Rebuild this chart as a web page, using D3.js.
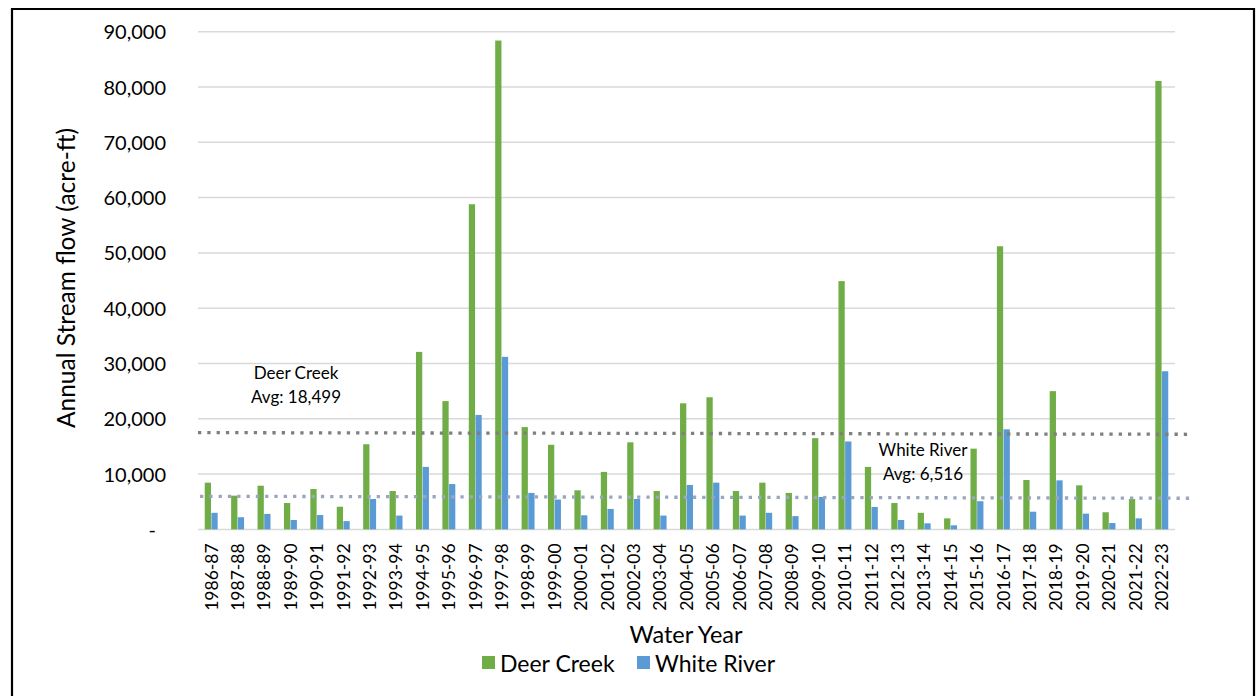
<!DOCTYPE html>
<html><head><meta charset="utf-8">
<script src="https://cdn.jsdelivr.net/npm/d3@7"></script>
<style>body{margin:0;background:#fff;} text{font-family:Lato, "Open Sans", sans-serif;}</style>
</head><body>
<svg id="chart" width="1256" height="696"></svg>
<script>
const years = ["1986-87","1987-88","1988-89","1989-90","1990-91","1991-92","1992-93","1993-94","1994-95","1995-96","1996-97","1997-98","1998-99","1999-00","2000-01","2001-02","2002-03","2003-04","2004-05","2005-06","2006-07","2007-08","2008-09","2009-10","2010-11","2011-12","2012-13","2013-14","2014-15","2015-16","2016-17","2017-18","2018-19","2019-20","2020-21","2021-22","2022-23"];
const deerCreek = [8450,6100,7900,4770,7300,4100,15400,6940,32100,23200,58800,88400,18500,15300,7070,10400,15750,6940,22800,23900,6940,8450,6600,16500,44900,11300,4770,3000,2000,14600,51200,8930,25000,7970,3100,5500,81100];
const whiteRiver = [3000,2200,2800,1700,2600,1500,5500,2500,11300,8200,20700,31200,6600,5400,2550,3700,5500,2500,8030,8450,2500,3000,2400,5860,15900,4050,1700,1100,740,5100,18100,3200,8870,2850,1150,2000,28600];
const seriesNames = ["Deer Creek","White River"];
const seriesColors = ["#70ad47","#5b9bd5"];
const yTicks = [0,10000,20000,30000,40000,50000,60000,70000,80000,90000];
// average reference lines as drawn (start value, end value)
const deerAvgLine = [17500,17200];
const whiteAvgLine = [5990,5630];
const deerAvgLabel = ["Deer Creek","Avg: 18,499"];
const whiteAvgLabel = ["White River","Avg: 6,516"];

const svg = d3.select("#chart");
const L = 198, R = 1175, T = 31.7, B = 529.4;

// border
svg.append("path").attr("d","M12,700 L12,9 L1254,9 L1254,700").attr("fill","none").attr("stroke","#000").attr("stroke-width",2.2);

const x = d3.scaleBand().domain(years).range([L,R]).padding(0);
const xs = d3.scaleBand().domain(seriesNames).range([x.bandwidth()*0.255, x.bandwidth()*0.745]).paddingInner(0.06);
const y = d3.scaleLinear().domain([0,90000]).range([B,T]);

// gridlines
svg.append("g").selectAll("line").data(yTicks).join("line")
  .attr("x1",L).attr("x2",R).attr("y1",d=>y(d)).attr("y2",d=>y(d))
  .attr("stroke","#d9d9d9").attr("stroke-width",1.5);

// y axis labels
const yAxis = d3.axisLeft(y).tickValues(yTicks).tickSize(0).tickPadding(32)
  .tickFormat(d => d===0 ? "-" : d3.format(",")(d));
const gy = svg.append("g").attr("transform",`translate(${L},0)`).call(yAxis);
gy.select(".domain").remove();
gy.selectAll("text").attr("font-size",20).attr("fill","#000").style("font-family","Lato").attr("dy","0.35em");
gy.selectAll(".tick").filter(d=>d===0).select("text").attr("dx",-10);

// bars
const data = years.map((yr,i)=>({yr, vals:[deerCreek[i], whiteRiver[i]]}));
const groups = svg.append("g").selectAll("g").data(data).join("g").attr("transform",d=>`translate(${x(d.yr)},0)`);
groups.selectAll("rect").data(d=>d.vals.map((v,j)=>({v,name:seriesNames[j],c:seriesColors[j]}))).join("rect")
  .attr("x",d=>xs(d.name)).attr("width",xs.bandwidth())
  .attr("y",d=>y(d.v)).attr("height",d=>B-y(d.v)).attr("fill",d=>d.c);

// x axis labels
const xAxis = d3.axisBottom(x).tickSize(0).tickPadding(0);
const gx = svg.append("g").attr("transform",`translate(0,${B})`).call(xAxis);
gx.select(".domain").remove();
gx.selectAll("text").attr("font-size",17.5).attr("fill","#000").style("font-family","Lato")
  .attr("text-anchor","end").attr("transform","rotate(-90)").attr("x",-14).attr("y",0).attr("dy","0.36em");

// average lines
svg.append("line").attr("x1",L).attr("x2",1190).attr("y1",y(deerAvgLine[0])).attr("y2",y(deerAvgLine[1]))
  .attr("stroke","#7f7f7f").attr("stroke-width",3.3).attr("stroke-dasharray","3.3,6");
svg.append("line").attr("x1",200).attr("x2",1193).attr("y1",y(whiteAvgLine[0])).attr("y2",y(whiteAvgLine[1]))
  .attr("stroke","#9aa6bf").attr("stroke-width",3.3).attr("stroke-dasharray","3.3,6");

// avg labels
svg.append("text").attr("x",296).attr("y",379).attr("text-anchor","middle").attr("font-size",17).text(deerAvgLabel[0]);
svg.append("text").attr("x",296).attr("y",403).attr("text-anchor","middle").attr("font-size",17).text(deerAvgLabel[1]);
svg.append("text").attr("x",923).attr("y",456).attr("text-anchor","middle").attr("font-size",17).text(whiteAvgLabel[0]);
svg.append("text").attr("x",923).attr("y",480).attr("text-anchor","middle").attr("font-size",17).text(whiteAvgLabel[1]);

// axis titles
svg.append("text").attr("transform","translate(75,278) rotate(-90)").attr("text-anchor","middle").attr("font-size",24.5).text("Annual Stream flow (acre-ft)");
svg.append("text").attr("x",686).attr("y",643).attr("text-anchor","middle").attr("font-size",23.5).text("Water Year");

// legend
const leg = svg.append("g");
const legX = [482, 637];
seriesNames.forEach((n,i)=>{
  leg.append("rect").attr("x",legX[i]).attr("y",656).attr("width",13).attr("height",13).attr("fill",seriesColors[i]);
  leg.append("text").attr("x",legX[i]+18).attr("y",672).attr("font-size",23).text(n);
});
</script>
</body></html>
